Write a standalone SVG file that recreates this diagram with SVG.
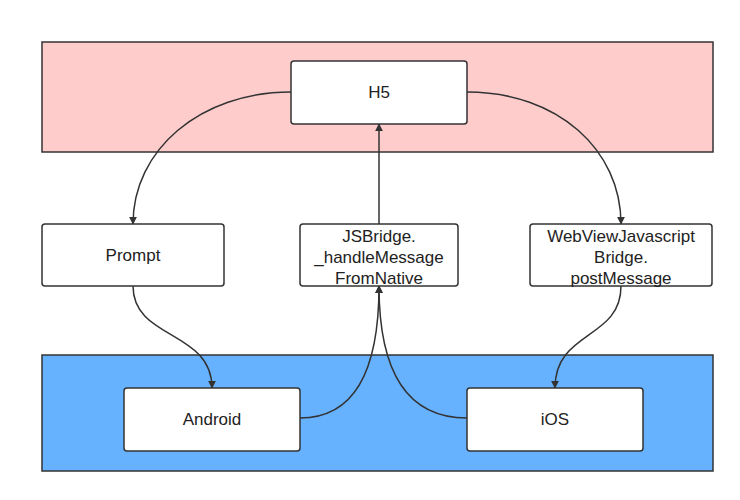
<svg xmlns="http://www.w3.org/2000/svg" width="740" height="500" viewBox="0 0 740 500">
<defs>
<style>
.band{stroke:#333;stroke-width:1.5}
.box{fill:#fff;stroke:#333;stroke-width:1.5}
.t{font-family:"Liberation Sans","Noto Sans",sans-serif;font-size:17px;fill:#222;text-anchor:middle}
.c{fill:none;stroke:#333;stroke-width:1.5}
</style>
<marker id="a" viewBox="0 0 10 10" refX="9" refY="5" markerWidth="8" markerHeight="8" markerUnits="userSpaceOnUse" orient="auto"><path d="M0,0 L10,5 L0,10 z" fill="#333"/></marker>
</defs>
<rect width="740" height="500" fill="#fff"/>
<g id="band-h5"><rect class="band" x="42" y="42" width="671" height="110" fill="#FFCCCC"/></g>
<g id="band-native"><rect class="band" x="42" y="355" width="671" height="116" fill="#66B2FF"/></g>
<g id="connectors">
<path class="c" d="M291,92 C200,92 133,150 133,224" marker-end="url(#a)"/>
<path class="c" d="M467,92 C558,92 621,150 621,224" marker-end="url(#a)"/>
<path class="c" d="M379,224 L379,124" marker-end="url(#a)"/>
<path class="c" d="M133,286 C133,340 212,330 212,388" marker-end="url(#a)"/>
<path class="c" d="M621,286 C621,340 555,330 555,388" marker-end="url(#a)"/>
<path class="c" d="M300,418 C360,418 379,360 379,286" marker-end="url(#a)"/>
<path class="c" d="M467,418 C400,418 379,360 379,286" marker-end="url(#a)"/>
</g>
<g id="h5"><rect class="box" x="291" y="61" width="176" height="63" rx="3"/><text class="t" x="379" y="98">H5</text></g>
<g id="prompt"><rect class="box" x="42" y="224" width="182" height="62" rx="3"/><text class="t" x="133" y="261">Prompt</text></g>
<g id="jsbridge"><rect class="box" x="300" y="224" width="158" height="62" rx="3"/><text class="t" x="379" y="242">JSBridge.</text><text class="t" x="379" y="263">_handleMessage</text><text class="t" x="379" y="284">FromNative</text></g>
<g id="webview"><rect class="box" x="530" y="224" width="182" height="62" rx="3"/><text class="t" x="621" y="242">WebViewJavascript</text><text class="t" x="621" y="263">Bridge.</text><text class="t" x="621" y="284">postMessage</text></g>
<g id="android"><rect class="box" x="124" y="388" width="176" height="63" rx="3"/><text class="t" x="212" y="425">Android</text></g>
<g id="ios"><rect class="box" x="467" y="388" width="176" height="63" rx="3"/><text class="t" x="555" y="425">iOS</text></g>
</svg>
